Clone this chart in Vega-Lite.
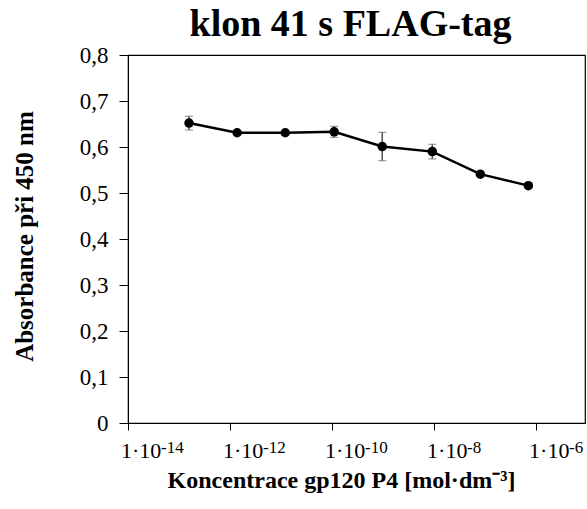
{
  "$schema": "https://vega.github.io/schema/vega-lite/v6.json",
  "autosize": "none",
  "width": 457,
  "height": 368,
  "padding": {"left": 128, "top": 55, "right": 2, "bottom": 86},
  "background": "white",
  "title": {
    "text": "klon 41 s FLAG-tag",
    "font": "Liberation Serif",
    "fontSize": 38,
    "fontWeight": "bold",
    "color": "black",
    "anchor": "middle",
    "dx": -6,
    "offset": 0
  },
  "config": {
    "view": {"stroke": "black", "strokeWidth": 1.2},
    "axis": {
      "domainColor": "black",
      "tickColor": "black",
      "labelColor": "black",
      "titleColor": "black",
      "labelFont": "Liberation Serif",
      "titleFont": "Liberation Serif",
      "grid": false
    }
  },
  "layer": [
    {
      "data": {
        "values": [
          {"conc": 1.57e-13, "abs": 0.652, "err": 0.015},
          {"conc": 1.38e-12, "abs": 0.631, "err": 0.003},
          {"conc": 1.21e-11, "abs": 0.631, "err": 0.003},
          {"conc": 1.10e-10, "abs": 0.633, "err": 0.012},
          {"conc": 9.64e-10, "abs": 0.601, "err": 0.031},
          {"conc": 9.23e-9, "abs": 0.590, "err": 0.016},
          {"conc": 8.07e-8, "abs": 0.541, "err": 0.003},
          {"conc": 7.06e-7, "abs": 0.516, "err": 0.003}
        ]
      },
      "encoding": {
        "x": {
          "field": "conc",
          "type": "quantitative",
          "scale": {"type": "log", "domain": [1e-14, 9.1e-6], "nice": false},
          "axis": {
            "values": [1e-14, 1e-12, 1e-10, 1e-8, 1e-6],
            "labelExpr": "'1·10'",
            "labelOpacity": 0,
            "labelFontSize": 22,
            "labelPadding": 10,
            "tickSize": 7,
            "labelFlush": false,
            "labelOverlap": false,
            "title": "Koncentrace gp120 P4 [mol·dm⁻³]",
            "titleFontSize": 24,
            "titleFontWeight": "bold",
            "titlePadding": 7,
            "titleX": 213
          }
        },
        "y": {
          "field": "abs",
          "type": "quantitative",
          "scale": {"domain": [0, 0.8], "nice": false},
          "axis": {
            "values": [0, 0.1, 0.2, 0.3, 0.4, 0.5, 0.6, 0.7, 0.8],
            "labelExpr": "datum.value == 0 ? '0' : replace(format(datum.value, '.1f'), '.', ',')",
            "labelFontSize": 23,
            "labelPadding": 11,
            "tickSize": 9,
            "labelFlush": false,
            "title": "Absorbance při 450 nm",
            "titleFontSize": 25,
            "titleFontWeight": "bold",
            "titlePadding": 42,
            "titleY": 181
          }
        }
      },
      "layer": [
        {
          "mark": {"type": "errorbar", "ticks": {"size": 8, "color": "#555555", "strokeWidth": 1.5}, "rule": {"color": "#555555", "strokeWidth": 1.5}},
          "encoding": {
            "yError": {"field": "err"}
          }
        },
        {
          "mark": {"type": "line", "color": "black", "strokeWidth": 2.5},
          "encoding": {}
        },
        {
          "mark": {"type": "point", "filled": true, "color": "black", "opacity": 1, "size": 90},
          "encoding": {}
        }
      ]
    },
    {
      "data": {
        "values": [
          {"conc": 1e-14, "base": "1·10", "exp": "-14"},
          {"conc": 1e-12, "base": "1·10", "exp": "-12"},
          {"conc": 1e-10, "base": "1·10", "exp": "-10"},
          {"conc": 1e-8, "base": "1·10", "exp": "-8"},
          {"conc": 1e-6, "base": "1·10", "exp": "-6"}
        ]
      },
      "encoding": {
        "x": {"field": "conc", "type": "quantitative"},
        "y": {"datum": 0, "type": "quantitative"}
      },
      "layer": [
        {
          "mark": {"type": "text", "font": "Liberation Serif", "fontSize": 22, "color": "black", "align": "left", "baseline": "alphabetic", "dx": -7, "dy": 35, "clip": false},
          "encoding": {"text": {"field": "base", "type": "nominal"}}
        },
        {
          "mark": {"type": "text", "font": "Liberation Serif", "fontSize": 17, "color": "black", "align": "left", "baseline": "alphabetic", "dx": 33, "dy": 30, "clip": false},
          "encoding": {"text": {"field": "exp", "type": "nominal"}}
        }
      ]
    }
  ]
}
